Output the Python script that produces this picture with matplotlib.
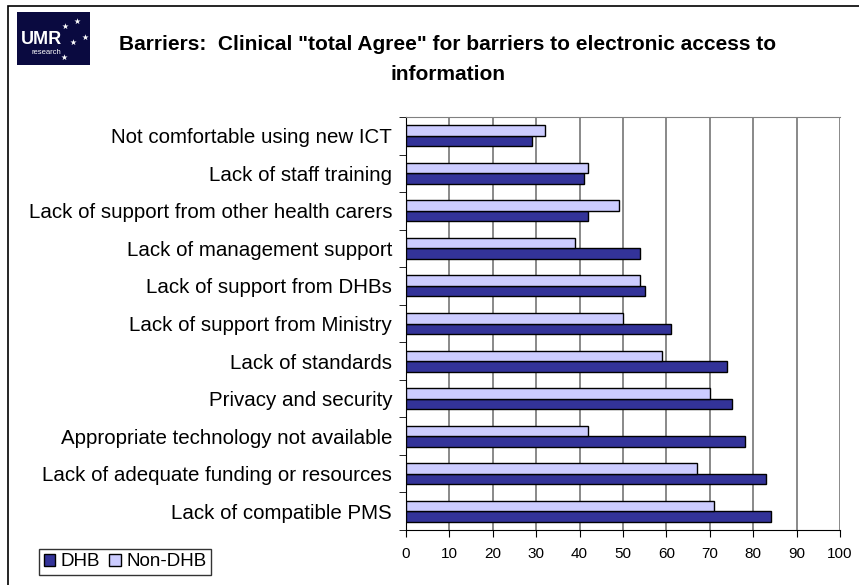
import numpy as np
import matplotlib.pyplot as plt
from matplotlib.patches import Rectangle

plt.rcParams['font.family'] = ['Liberation Sans', 'DejaVu Sans']

categories = ['Not comfortable using new ICT', 'Lack of staff training',
              'Lack of support from other health carers', 'Lack of management support',
              'Lack of support from DHBs', 'Lack of support from Ministry',
              'Lack of standards', 'Privacy and security',
              'Appropriate technology not available',
              'Lack of adequate funding or resources', 'Lack of compatible PMS']
dhb = [29, 41, 42, 54, 55, 61, 74, 75, 78, 83, 84]
non_dhb = [32, 42, 49, 39, 54, 50, 59, 70, 42, 67, 71]
xticks = list(range(0, 101, 10))

W, H = 859, 585
fig = plt.figure(figsize=(W / 100, H / 100), dpi=100)

# outer frame (only left/top visible in the original)
fig.patches.append(Rectangle((8 / W, -0.5), 2, 1 - 6 / H + 0.5, transform=fig.transFigure,
                             fill=False, edgecolor='black', linewidth=1.2))

ax = fig.add_axes([406 / W, 1 - 530 / H, 434 / W, 413 / H])
n = len(categories)
y = n - 1 - np.arange(n)
bh = 0.28
ax.barh(y - bh / 2, dhb, height=bh, color='#333399', edgecolor='black', linewidth=1, label='DHB', zorder=3)
ax.barh(y + bh / 2, non_dhb, height=bh, color='#CCCCFF', edgecolor='black', linewidth=1, label='Non-DHB', zorder=3)

ax.set_xlim(0, 100)
ax.set_ylim(-0.5, n - 0.5)
ax.set_xticks(xticks)
ax.set_xticklabels([str(t) for t in xticks], fontsize=11)
ax.tick_params(axis='x', direction='out', length=5, pad=7, color='black')
ax.set_yticks(y)
ax.set_yticklabels(categories, fontsize=14.8)
ax.tick_params(axis='y', length=0, pad=10)
# ticks between categories on the y axis
ax.set_yticks(np.arange(-0.5, n, 1), minor=True)
ax.tick_params(axis='y', which='minor', direction='out', length=5, color='black')
ax.grid(axis='x', color='#808080', linewidth=1.3, zorder=0)
ax.spines['top'].set_color('#808080')
ax.spines['right'].set_visible(False)
ax.spines['left'].set_color('black')
ax.spines['bottom'].set_color('black')

fig.text(448 / W, 1 - 45 / H, 'Barriers:  Clinical "total Agree" for barriers to electronic access to',
         ha='center', va='center', fontsize=15, fontweight='bold')
fig.text(448 / W, 1 - 74 / H, 'information', ha='center', va='center', fontsize=15, fontweight='bold')

handles, labels = ax.get_legend_handles_labels()
leg = fig.legend(handles, labels, loc='lower left', bbox_to_anchor=(39 / W, 1 - 575 / H),
                 ncol=2, fontsize=13.5, frameon=True, fancybox=False, borderpad=0.25,
                 handlelength=0.6, handleheight=0.6, handletextpad=0.3, columnspacing=0.5,
                 borderaxespad=0)
leg.get_frame().set_edgecolor('black')
leg.get_frame().set_linewidth(1)

# logo
lax = fig.add_axes([17 / W, 1 - 65 / H, 73 / W, 53 / H])
lax.set_facecolor('#0a0a40')
lax.set_xlim(0, 73)
lax.set_ylim(53, 0)
lax.set_xticks([])
lax.set_yticks([])
for s in lax.spines.values():
    s.set_visible(False)
lax.text(4, 27, 'UMR', color='white', fontsize=13, fontweight='bold', va='center', ha='left')
lax.text(15, 41, 'research', color='white', fontsize=5.5, va='center', ha='left')
star_x = [60, 48, 68, 56, 47]
star_y = [9, 14, 25, 30, 45]
lax.scatter(star_x, star_y, marker='*', color='white', s=22, linewidths=0)

fig.savefig('out.png', dpi=100)
